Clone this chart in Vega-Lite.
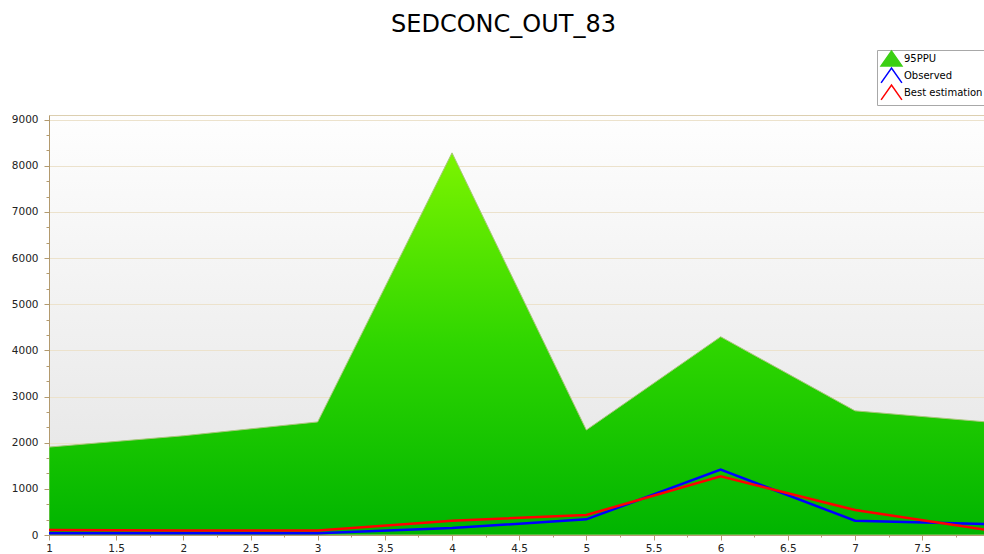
{
  "$schema": "https://vega.github.io/schema/vega-lite/v6.json",
  "autosize": {"type": "none"},
  "width": 935,
  "height": 420,
  "padding": {"left": 49, "top": 115, "right": 0, "bottom": 19},
  "background": "white",
  "title": {
    "text": "SEDCONC_OUT_83",
    "font": "DejaVu Sans",
    "fontSize": 24,
    "fontWeight": "normal",
    "color": "#000000",
    "anchor": "middle",
    "baseline": "alphabetic",
    "offset": -6,
    "dx": -13
  },
  "config": {
    "view": {
      "stroke": "#dccfb0",
      "fill": {
        "gradient": "linear",
        "x1": 0, "y1": 0, "x2": 0, "y2": 1,
        "stops": [
          {"offset": 0, "color": "#fefefe"},
          {"offset": 1, "color": "#e3e3e3"}
        ]
      }
    },
    "axis": {
      "labelFont": "DejaVu Sans",
      "labelFontSize": 10.5,
      "labelColor": "#222222",
      "domainColor": "#b39a6e",
      "tickColor": "#b39a6e",
      "gridColor": "#ece2cc",
      "title": null
    }
  },
  "datasets": {
    "band": [
      {"x": 1, "lower": 0, "upper": 1905},
      {"x": 2, "lower": 0, "upper": 2150},
      {"x": 3, "lower": 0, "upper": 2450},
      {"x": 4, "lower": 0, "upper": 8280},
      {"x": 5, "lower": 0, "upper": 2275},
      {"x": 6, "lower": 0, "upper": 4295},
      {"x": 7, "lower": 0, "upper": 2690},
      {"x": 8, "lower": 0, "upper": 2445}
    ],
    "lines": [
      {"x": 1, "series": "Observed", "value": 37},
      {"x": 2, "series": "Observed", "value": 37},
      {"x": 3, "series": "Observed", "value": 37},
      {"x": 4, "series": "Observed", "value": 150},
      {"x": 5, "series": "Observed", "value": 340},
      {"x": 6, "series": "Observed", "value": 1415},
      {"x": 7, "series": "Observed", "value": 310},
      {"x": 8, "series": "Observed", "value": 238},
      {"x": 1, "series": "Best estimation", "value": 108},
      {"x": 2, "series": "Best estimation", "value": 100},
      {"x": 3, "series": "Best estimation", "value": 95},
      {"x": 4, "series": "Best estimation", "value": 310},
      {"x": 5, "series": "Best estimation", "value": 433},
      {"x": 6, "series": "Best estimation", "value": 1270},
      {"x": 7, "series": "Best estimation", "value": 540},
      {"x": 8, "series": "Best estimation", "value": 100}
    ]
  },
  "layer": [
    {
      "data": {"name": "band"},
      "mark": {
        "type": "area",
        "clip": true,
        "stroke": "#a9c77a",
        "strokeWidth": 1,
        "fill": {
          "gradient": "linear",
          "x1": 0, "y1": 0, "x2": 0, "y2": 1,
          "stops": [
            {"offset": 0, "color": "#7cf400"},
            {"offset": 0.5, "color": "#2fd600"},
            {"offset": 1, "color": "#00b400"}
          ]
        }
      },
      "encoding": {
        "x": {
          "field": "x",
          "type": "quantitative",
          "scale": {"domain": [1, 7.96], "nice": false, "zero": false},
          "axis": {
            "values": [1, 1.25, 1.5, 1.75, 2, 2.25, 2.5, 2.75, 3, 3.25, 3.5, 3.75, 4, 4.25, 4.5, 4.75, 5, 5.25, 5.5, 5.75, 6, 6.25, 6.5, 6.75, 7, 7.25, 7.5, 7.75],
            "tickCount": 200,
            "labelExpr": "datum.value % 0.5 === 0 ? format(datum.value, '') : ''",
            "tickSize": {"condition": {"test": "datum.value % 0.5 !== 0", "value": 2}, "value": 5},
            "labelPadding": 3,
            "grid": false,
            "labelFlush": false,
            "labelOverlap": false
          }
        },
        "y": {
          "field": "upper",
          "type": "quantitative",
          "scale": {"domain": [0, 9100], "nice": false},
          "axis": {
            "values": [0, 333.3, 666.7, 1000, 1333.3, 1666.7, 2000, 2333.3, 2666.7, 3000, 3333.3, 3666.7, 4000, 4333.3, 4666.7, 5000, 5333.3, 5666.7, 6000, 6333.3, 6666.7, 7000, 7333.3, 7666.7, 8000, 8333.3, 8666.7, 9000],
            "tickCount": 200,
            "labelExpr": "datum.value % 1000 === 0 ? format(datum.value, 'd') : ''",
            "tickSize": {"condition": {"test": "datum.value % 1000 !== 0", "value": 3}, "value": 5},
            "gridOpacity": {"condition": {"test": "datum.value % 1000 !== 0", "value": 0}, "value": 1},
            "grid": true,
            "labelPadding": 6,
            "labelOverlap": false
          }
        },
        "y2": {"field": "lower"}
      }
    },
    {
      "data": {"name": "lines"},
      "mark": {"type": "line", "clip": true, "strokeWidth": 2.5},
      "encoding": {
        "x": {"field": "x", "type": "quantitative"},
        "y": {"field": "value", "type": "quantitative"},
        "color": {
          "field": "series",
          "type": "nominal",
          "scale": {
            "domain": ["95PPU", "Observed", "Best estimation"],
            "range": ["#3ccf14", "#0000ff", "#ff0000"]
          },
          "legend": {
            "orient": "none",
            "legendX": 828,
            "legendY": -65,
            "title": null,
            "fillColor": "#ffffff",
            "strokeColor": "#a8a8a8",
            "padding": 2,
            "rowPadding": -4,
            "labelFont": "DejaVu Sans",
            "labelFontSize": 10,
            "labelColor": "#000000",
            "symbolOffset": 6,
            "labelOffset": 6,
            "symbolSize": 120,
            "symbolStrokeWidth": 1.5,
            "encode": {
              "symbols": {
                "update": {
                  "shape": {"signal": "datum.label === '95PPU' ? 'M-1.9,1.35L0,-1.35L1.9,1.35Z' : 'M-1.9,1.35L0,-1.35L1.9,1.35'"},
                  "fill": {"signal": "datum.label === '95PPU' ? '#3ccf14' : 'transparent'"},
                  "stroke": {"signal": "datum.label === '95PPU' ? '#3ccf14' : (datum.label === 'Observed' ? '#0000ff' : '#ff0000')"},
                  "strokeWidth": {"value": 1.5}
                }
              }
            }
          }
        }
      }
    }
  ]
}
